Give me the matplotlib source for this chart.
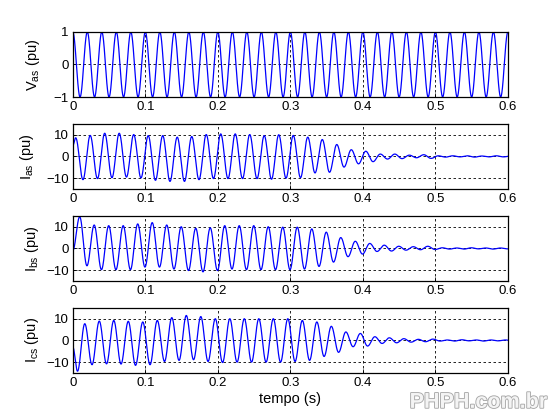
"""
Tensão e correntes de estator (pu) - quatro painéis empilhados, estilo MATLAB.
"""
import matplotlib
matplotlib.use("Agg")
import matplotlib.pyplot as plt
import matplotlib.patheffects as pe
import numpy as np

plt.rcParams["font.family"] = ["Liberation Sans", "DejaVu Sans"]
plt.rcParams["mathtext.fontset"] = "custom"
plt.rcParams["mathtext.rm"] = "Liberation Sans"
plt.rcParams["mathtext.default"] = "regular"

# ── dados ───────────────────────────────────────────────────────────────────
# cada sinal: valor em t=0, instante do 1º extremo, e os extremos (meio ciclo = 0.01 s)
HALF_PERIOD = 0.01
T_END = 0.6

VAS_START = 1.0
VAS_T0 = 0.0
VAS_PEAKS = [1.0, -1.0] * 31

IAS_START = 5.0
IAS_T0 = 0.004
IAS_PEAKS = [8.6, -10.7, 9.7, -10.2, 10.7, -9.8, 10.7, -9.5, 10.1, -9.9,
             9.6, -11.0, 9.6, -11.5, 8.9, -11.5, 9.2, -10.7, 10.1, -10.2,
             10.4, -10.2, 10.4, -10.2, 10.1, -10.2, 9.6, -10.5, 10.0, -10.0,
             9.7, -9.8, 8.9, -7.6, 7.8, -7.3, 5.5, -4.9, 3.1, -3.4,
             2.4, -2.4, 1.1, -1.2, 1.1, -1.0, 0.6, -0.6, 0.8, -0.9,
             0.3, -0.3, 0.3, -0.2, 0.3, -0.3, 0.2, -0.2, 0.3, -0.2, 0.2]

IBS_START = -1.0
IBS_T0 = 0.0095
IBS_PEAKS = [14.6, -8.0, 10.8, -9.8, 10.5, -9.8, 10.5, -9.8, 11.3, -8.6,
             11.9, -8.6, 10.8, -9.5, 10.0, -10.2, 9.3, -10.8, 9.5, -10.2,
             10.5, -9.5, 10.5, -9.8, 10.5, -9.8, 10.0, -9.8, 9.8, -9.8,
             9.8, -9.5, 9.0, -8.3, 7.5, -6.3, 5.0, -3.8, 3.3, -2.6,
             2.3, -1.4, 1.5, -1.2, 1.0, -0.8, 0.8, -0.6, 1.0, -0.5,
             0.3, -0.3, 0.2, -0.3, 0.3, -0.2, 0.2, -0.3, 0.2, -0.2, 0.2]

ICS_START = -3.0
ICS_T0 = 0.0065
ICS_PEAKS = [-14.2, 7.7, -11.2, 8.9, -10.8, 9.2, -10.9, 8.8, -11.5, 8.5,
             -11.2, 9.2, -9.7, 10.5, -9.2, 11.5, -8.9, 11.0, -9.7, 10.0,
             -10.2, 10.0, -10.0, 10.0, -10.0, 10.0, -10.0, 10.0, -10.0, 10.0,
             -9.7, 9.2, -9.2, 8.5, -7.4, 6.5, -5.5, 3.9, -2.9, 3.2,
             -2.6, 1.7, -1.4, 1.2, -1.1, 0.8, -0.8, 0.5, -0.6, 0.6,
             -0.3, 0.2, -0.3, 0.3, -0.2, 0.2, -0.3, 0.2, -0.2, 0.2, -0.2]

YLABELS = [r"$V_{as}$ (pu)", r"$I_{as}$ (pu)", r"$I_{bs}$ (pu)", r"$I_{cs}$ (pu)"]
XTICKS = [0, 0.1, 0.2, 0.3, 0.4, 0.5, 0.6]
XTICKLABELS = ["0", "0.1", "0.2", "0.3", "0.4", "0.5", "0.6"]


def wave(start, t0, peaks, n=3001):
    """Liga os extremos com meias-cossenoides (forma de onda senoidal)."""
    kt = np.concatenate([[0.0], t0 + HALF_PERIOD * np.arange(len(peaks))]) if t0 > 0 \
        else HALF_PERIOD * np.arange(len(peaks))
    kv = np.concatenate([[start], peaks]) if t0 > 0 else np.asarray(peaks, float)
    t = np.linspace(0, T_END, n)
    i = np.clip(np.searchsorted(kt, t, side="right") - 1, 0, len(kt) - 2)
    s = (t - kt[i]) / (kt[i + 1] - kt[i])
    a, b = kv[i], kv[i + 1]
    return t, (a + b) / 2 + (a - b) / 2 * np.cos(np.pi * s)


signals = [
    (wave(VAS_START, VAS_T0, VAS_PEAKS), (-1, 1), [-1, 0, 1]),
    (wave(IAS_START, IAS_T0, IAS_PEAKS), (-15, 15), [-10, 0, 10]),
    (wave(IBS_START, IBS_T0, IBS_PEAKS), (-15, 15), [-10, 0, 10]),
    (wave(ICS_START, ICS_T0, ICS_PEAKS), (-15, 15), [-10, 0, 10]),
]

fig = plt.figure(figsize=(5.6, 4.2), dpi=100)
bottoms = [0.769, 0.550, 0.331, 0.112]
label_x = [-0.070, -0.084, -0.072, -0.072]

for k, ((t, y), ylim, yticks) in enumerate(signals):
    ax = fig.add_axes([0.130, bottoms[k], 0.777, 0.155])
    ax.plot(t, y, color="#0000ff", lw=0.9)
    ax.set_xlim(0, T_END)
    ax.set_ylim(*ylim)
    ax.set_xticks(XTICKS)
    ax.set_xticklabels(XTICKLABELS)
    ax.set_yticks(yticks)
    ax.grid(True, color="black", linestyle=(0, (3, 3)), linewidth=0.6)
    ax.tick_params(direction="in", length=3, labelsize=9.5, width=0.6, pad=3)
    for sp in ax.spines.values():
        sp.set_linewidth(0.9)
    ax.set_ylabel(YLABELS[k], fontsize=10.5)
    ax.yaxis.set_label_coords(label_x[k], 0.5)
    if k == 3:
        ax.set_xlabel("tempo (s)", fontsize=10.5, labelpad=2)

wm = fig.text(0.977, 0.029, "PHPH.com.br", ha="right", va="baseline",
              fontsize=15.5, fontweight="bold", color="#f4f4f4")
wm.set_path_effects([pe.withStroke(linewidth=1.3, foreground="#a8a8a8")])

fig.savefig("out.png", dpi=100)
